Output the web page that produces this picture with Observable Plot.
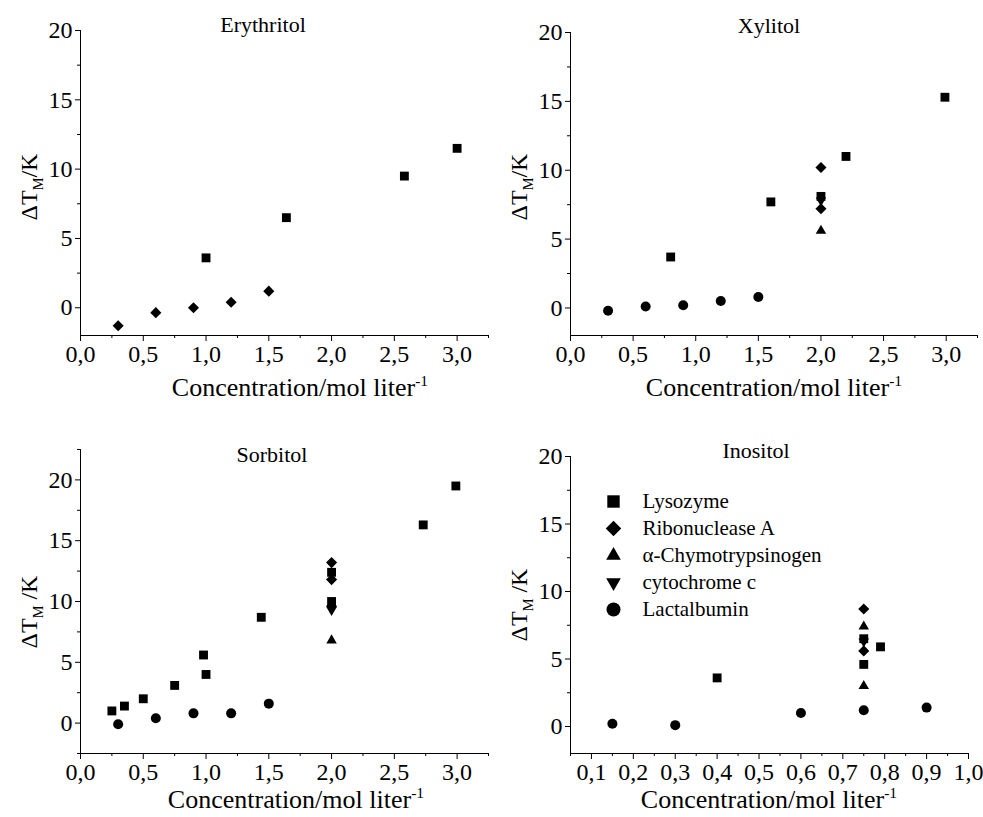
<!DOCTYPE html>
<html><head><meta charset="utf-8">
<script src="https://cdn.jsdelivr.net/npm/d3@7"></script>
<script src="https://cdn.jsdelivr.net/npm/@observablehq/plot@0.6"></script>
<style>
body{margin:0;background:#fff;}
#wrap{position:relative;width:983px;height:817px;font-family:"Liberation Serif",serif;color:#000;overflow:hidden;}
#wrap svg, #wrap svg text{font-family:"Liberation Serif",serif !important;}
.panel{position:absolute;}
.lab{position:absolute;white-space:nowrap;line-height:1;font-size:22px;font-family:"Liberation Serif",serif;}
.title{transform:translateX(-50%);}
.xlab{transform:translateX(-50%);font-size:26px;}
.ylab{transform:translate(-50%,-50%) rotate(-90deg);font-size:24px;}
sub,sup{font-size:60%;line-height:0;}
</style>
</head><body>
<div id="wrap"></div>
<script>
// ---------- data ----------
const proteins = ["Lysozyme", "Ribonuclease A", "α-Chymotrypsinogen", "cytochrome c", "Lactalbumin"];

// Erythritol
const eryProtein = ["Lysozyme","Lysozyme","Lysozyme","Lysozyme",
  "Ribonuclease A","Ribonuclease A","Ribonuclease A","Ribonuclease A","Ribonuclease A"];
const eryConc = [1.0, 1.64, 2.58, 3.0, 0.3, 0.6, 0.9, 1.2, 1.5];
const eryDT   = [3.6, 6.5, 9.5, 11.5, -1.3, -0.35, 0.0, 0.4, 1.2];

// Xylitol
const xylProtein = ["Lysozyme","Lysozyme","Lysozyme","Lysozyme","Lysozyme",
  "Ribonuclease A","Ribonuclease A","α-Chymotrypsinogen","cytochrome c",
  "Lactalbumin","Lactalbumin","Lactalbumin","Lactalbumin","Lactalbumin"];
const xylConc = [0.8, 1.6, 2.0, 2.2, 2.99, 2.0, 2.0, 2.0, 2.0, 0.3, 0.6, 0.9, 1.2, 1.5];
const xylDT   = [3.7, 7.7, 8.1, 11.0, 15.3, 10.2, 7.2, 5.6, 7.8, -0.2, 0.1, 0.2, 0.5, 0.8];

// Sorbitol
const sorProtein = ["Lysozyme","Lysozyme","Lysozyme","Lysozyme","Lysozyme","Lysozyme","Lysozyme","Lysozyme","Lysozyme","Lysozyme","Lysozyme",
  "Ribonuclease A","Ribonuclease A","Ribonuclease A","α-Chymotrypsinogen","cytochrome c",
  "Lactalbumin","Lactalbumin","Lactalbumin","Lactalbumin","Lactalbumin"];
const sorConc = [0.25, 0.35, 0.5, 0.75, 0.98, 1.0, 1.44, 2.0, 2.0, 2.73, 2.99, 2.0, 2.0, 2.0, 2.0, 2.0, 0.3, 0.6, 0.9, 1.2, 1.5];
const sorDT   = [1.0, 1.4, 2.0, 3.1, 5.6, 4.0, 8.7, 12.4, 10.0, 16.3, 19.5, 13.2, 11.8, 9.6, 6.8, 9.3, -0.1, 0.4, 0.8, 0.8, 1.6];

// Inositol
const inoProtein = ["Lysozyme","Lysozyme","Lysozyme","Lysozyme",
  "Ribonuclease A","Ribonuclease A","α-Chymotrypsinogen","α-Chymotrypsinogen","cytochrome c",
  "Lactalbumin","Lactalbumin","Lactalbumin","Lactalbumin","Lactalbumin"];
const inoConc = [0.4, 0.75, 0.75, 0.79, 0.75, 0.75, 0.75, 0.75, 0.75, 0.15, 0.3, 0.6, 0.75, 0.9];
const inoDT   = [3.6, 6.5, 4.6, 5.9, 8.7, 5.6, 7.4, 3.0, 6.3, 0.2, 0.1, 1.0, 1.2, 1.4];

// ticks
const xTicksWide = [0, 0.5, 1.0, 1.5, 2.0, 2.5, 3.0];
const xMinorWide = [0.25, 0.75, 1.25, 1.75, 2.25, 2.75, 3.25];
const xTicksIno = [0.1, 0.2, 0.3, 0.4, 0.5, 0.6, 0.7, 0.8, 0.9, 1.0];
const xMinorIno = [0.05, 0.15, 0.25, 0.35, 0.45, 0.55, 0.65, 0.75, 0.85, 0.95];
const yTicks = [0, 5, 10, 15, 20];
const yMinor = [-2.5, 2.5, 7.5, 12.5, 17.5, 22.5];

// ---------- symbols ----------
const symbolTriangleDown = {
  draw(ctx, size) {
    const s = Math.sqrt(size) * 0.6824, t = s / 2, u = s * Math.sqrt(3) / 2;
    ctx.moveTo(0, s); ctx.lineTo(u, -t); ctx.lineTo(-u, -t); ctx.closePath();
  }
};
const symbolRange = [d3.symbolSquare, d3.symbolDiamond2, d3.symbolTriangle2, symbolTriangleDown, d3.symbolCircle];

const fmt = d => d.toFixed(1).replace(".", ",");
const serif = "'Liberation Serif',serif";
const font = {fontFamily: serif, fontSize: "24px", color: "black", background: "white", overflow: "visible"};

function panel(opts) {
  const data = opts.protein.map((p, i) => ({p, x: opts.conc[i], y: opts.dt[i]}));
  return Plot.plot({
    width: opts.width, height: opts.height,
    marginLeft: opts.ml, marginRight: opts.mr, marginTop: opts.mt, marginBottom: opts.mb,
    style: font,
    x: {domain: opts.xDomain},
    y: {domain: opts.yDomain},
    symbol: {domain: proteins, range: symbolRange},
    marks: [
      Plot.ruleX([opts.xDomain[0]], {stroke: "black", strokeWidth: 1}),
      Plot.ruleY([opts.yDomain[0]], {stroke: "black", strokeWidth: 1}),
      Plot.axisX({ticks: opts.xTicks, tickFormat: fmt, tickSize: 6, tickPadding: 3, label: null, fontFamily: serif, fontSize: 24}),
      Plot.axisX({ticks: opts.xMinor.filter(v => v >= opts.xDomain[0] && v <= opts.xDomain[1]), tickFormat: () => "", tickSize: 3, label: null}),
      Plot.axisY({ticks: opts.yTicks, tickFormat: d => String(d), tickSize: 5, tickPadding: 3, label: null, fontFamily: serif, fontSize: 24}),
      Plot.axisY({ticks: yMinor.filter(v => v >= opts.yDomain[0] && v <= opts.yDomain[1]), tickFormat: () => "", tickSize: 3, label: null}),
      Plot.dot(data, {x: "x", y: "y", symbol: "p", fill: "black", stroke: "none", r: 5})
    ]
  });
}

const wrap = document.getElementById("wrap");
function place(el, left, top) {
  el.classList.add("panel");
  el.style.left = left + "px"; el.style.top = top + "px";
  wrap.appendChild(el);
}
function label(cls, html, left, top) {
  const d = document.createElement("div");
  d.className = "lab " + cls;
  d.innerHTML = html;
  d.style.left = left + "px"; d.style.top = top + "px";
  wrap.appendChild(d);
}

place(panel({protein: eryProtein, conc: eryConc, dt: eryDT, xDomain: [0, 3.25], yDomain: [-2, 20],
  xTicks: xTicksWide, xMinor: xMinorWide, yTicks,
  width: 491, height: 410, ml: 80, mr: 3, mt: 30, mb: 75}), 0, 0);
place(panel({protein: xylProtein, conc: xylConc, dt: xylDT, xDomain: [0, 3.25], yDomain: [-2, 20],
  xTicks: xTicksWide, xMinor: xMinorWide, yTicks,
  width: 493, height: 410, ml: 80, mr: 6, mt: 32, mb: 75}), 490, 0);
place(panel({protein: sorProtein, conc: sorConc, dt: sorDT, xDomain: [0, 3.25], yDomain: [-2.5, 22.5],
  xTicks: xTicksWide, xMinor: xMinorWide, yTicks,
  width: 491, height: 397, ml: 80, mr: 3, mt: 29, mb: 64}), 0, 420);
place(panel({protein: inoProtein, conc: inoConc, dt: inoDT, xDomain: [0.05, 1.0], yDomain: [-2, 20],
  xTicks: xTicksIno, xMinor: xMinorIno, yTicks,
  width: 493, height: 397, ml: 80, mr: 15, mt: 36, mb: 64}), 490, 420);

// legend (inside Inositol panel)
const legend = Plot.plot({
  width: 270, height: 140, marginLeft: 15, marginRight: 10, marginTop: 15, marginBottom: 16,
  style: {...font, fontSize: "21px", background: "transparent"},
  x: {domain: [0, 1], axis: null},
  y: {type: "point", domain: proteins, padding: 0, axis: null},
  symbol: {domain: proteins, range: symbolRange},
  marks: [
    Plot.dot(proteins, {x: () => 0, y: d => d, symbol: d => d, fill: "black", stroke: "none", r: 7}),
    Plot.text(proteins, {x: () => 0, y: d => d, text: d => d, dx: 29, textAnchor: "start", fill: "black", fontFamily: serif, fontSize: 21})
  ]
});
place(legend, 598, 485);

// titles
label("title", "Erythritol", 263, 14);
label("title", "Xylitol", 769, 15);
label("title", "Sorbitol", 272, 444);
label("title", "Inositol", 756, 440);

// axis labels
const xl = "Concentration/mol liter<sup>-1</sup>";
label("xlab", xl, 300, 375);
label("xlab", xl, 774, 375);
label("xlab", xl, 296, 787);
label("xlab", xl, 769, 787);
const yl1 = "ΔT<sub>M</sub>/K", yl2 = "ΔT<sub>M</sub> /K";
label("ylab", yl1, 29, 187);
label("ylab", yl1, 519, 187);
label("ylab", yl2, 29, 612);
label("ylab", yl2, 519, 605);
</script>
</body></html>
